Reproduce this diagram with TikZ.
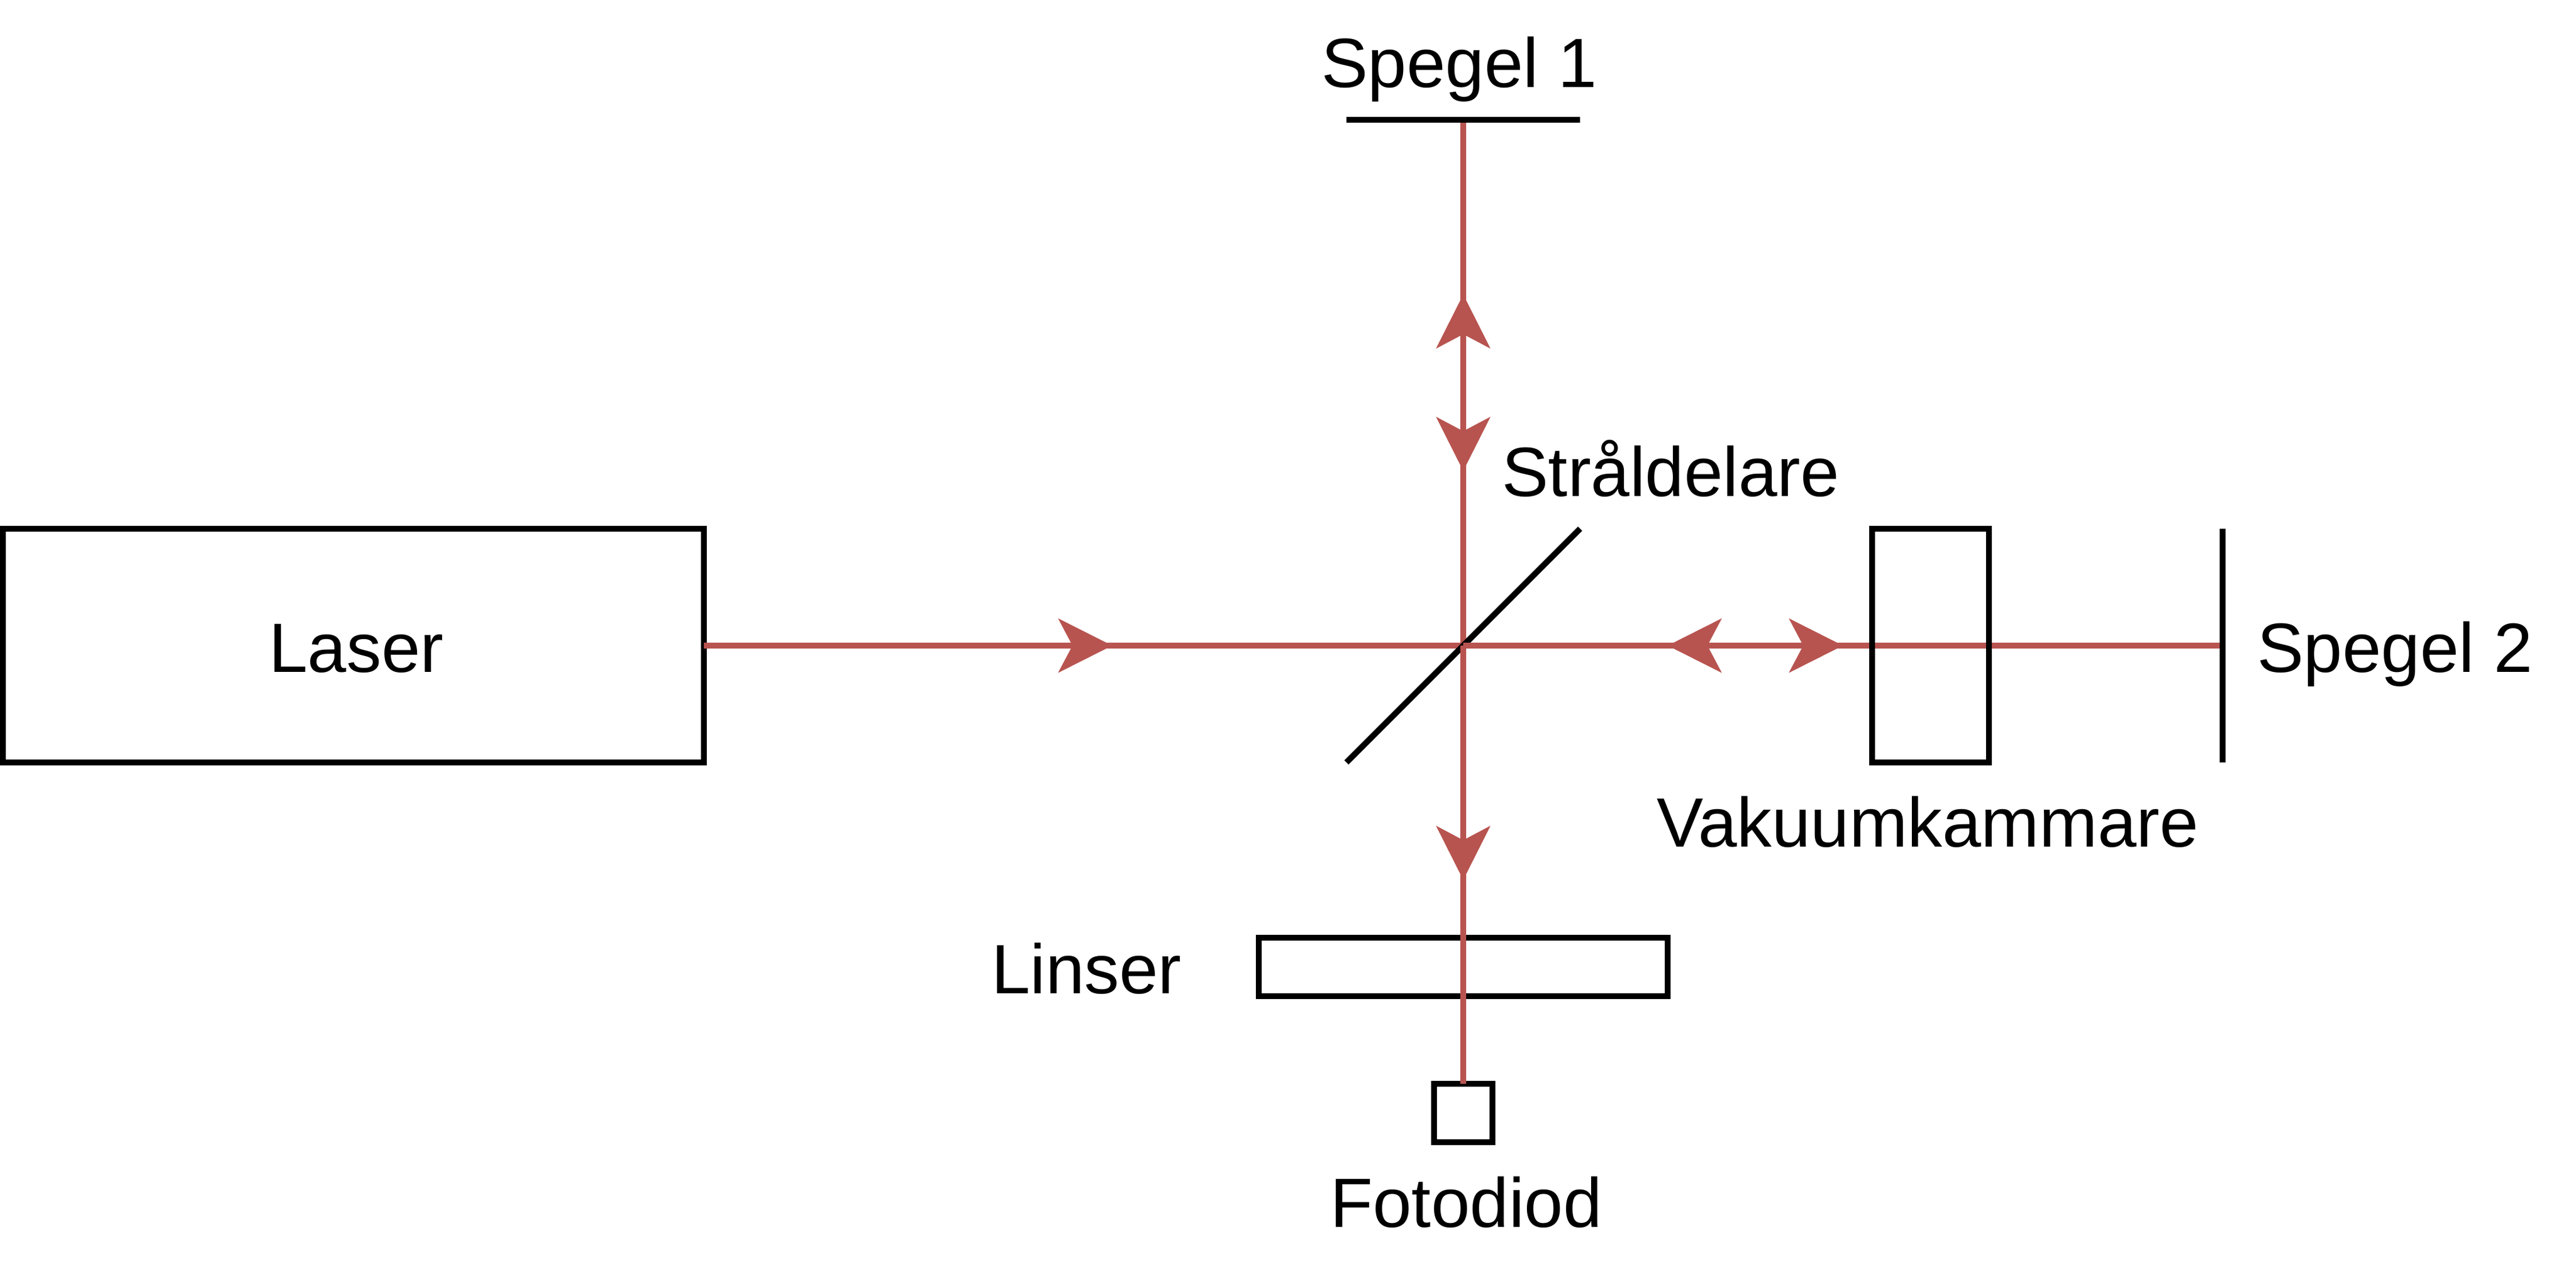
\documentclass[tikz,border=0pt]{standalone}
\usepackage{fontspec}
\setmainfont{Liberation Sans}
\usetikzlibrary{arrows.meta}
\definecolor{beamred}{HTML}{B85450}
\tikzstyle{part}=[draw,rectangle,line width=0.1cm,outer sep=0pt,inner sep=0pt]
\tikzstyle{lbl}=[anchor=base,inner sep=0pt,font=\fontsize{34}{40}\selectfont]
\tikzstyle{beam}=[draw=beamred,line width=0.1cm]
\tikzstyle{tip}=[beam,-{Stealth[length=0.92cm,width=0.92cm,inset=0.24cm,color=beamred]}]
\tikzstyle{mirror}=[draw,line width=0.1cm]
\begin{document}
\begin{tikzpicture}
\useasboundingbox (0,0) rectangle (44.1,-21.6);
    \node [part,minimum width=12cm,minimum height=4cm] (laser) at (6.05,-11.05) {};
    \node [part,minimum width=7cm,minimum height=1cm] (linser) at (25.05,-16.55) {};
    \node [part,minimum width=1cm,minimum height=1cm] (diod) at (25.05,-19.05) {};
    % splitter and mirror ends
    \coordinate (split) at (25.05,-11.05);
    \coordinate (splitA) at (23.05,-13.05);
    \coordinate (splitB) at (27.05,-9.05);
    \coordinate (spegelA) at (25.05,-2.05);
    \coordinate (spegelAl) at (23.05,-2.05);
    \coordinate (spegelAr) at (27.05,-2.05);
    \coordinate (spegelB) at (38.05,-11.05);
    \coordinate (spegelBt) at (38.05,-9.05);
    \coordinate (spegelBb) at (38.05,-13.05);
    % where the arrow tips sit
    \coordinate (tipLaser) at (19.04,-11.05);
    \coordinate (tipUp) at (25.05,-5.04);
    \coordinate (tipDown) at (25.05,-8.06);
    \coordinate (tipLeft) at (28.55,-11.05);
    \coordinate (tipRight) at (31.55,-11.05);
    \coordinate (tipDiod) at (25.05,-15.06);
    \draw [beam] (laser.east) -- (split);
    \draw [tip] (laser.east) -- (tipLaser);
    \draw [beam] (split) -- (spegelA);
    \draw [tip] (split) -- (tipUp);
    \draw [tip] (spegelA) -- (tipDown);
    \draw [mirror] (splitA) -- (splitB);
    \draw [beam] (split) -- (spegelB);
    \draw [beam] (split) -- (diod.north);
    \draw [tip] (spegelB) -- (tipLeft);
    \draw [tip] (split) -- (tipRight);
    \draw [tip] (split) -- (tipDiod);
    \node [part,minimum width=2cm,minimum height=4cm] (kammare) at (33.05,-11.05) {};
    \draw [mirror] (spegelAl) -- (spegelAr);
    \draw [mirror] (spegelBt) -- (spegelBb);
    \node [lbl] (laserText) at (6.1,-11.5) {Laser};
    \node [lbl] (spegelAText) at (24.98,-1.5) {Spegel 1};
    \node [lbl] (stralText) at (28.6,-8.5) {Stråldelare};
    \node [lbl] (spegelBText) at (41.0,-11.5) {Spegel 2};
    \node [lbl] (kammareText) at (33.0,-14.49) {Vakuumkammare};
    \node [lbl] (linserText) at (18.6,-17) {Linser};
    \node [lbl] (diodText) at (25.1,-21) {Fotodiod};
\end{tikzpicture}
\end{document}
